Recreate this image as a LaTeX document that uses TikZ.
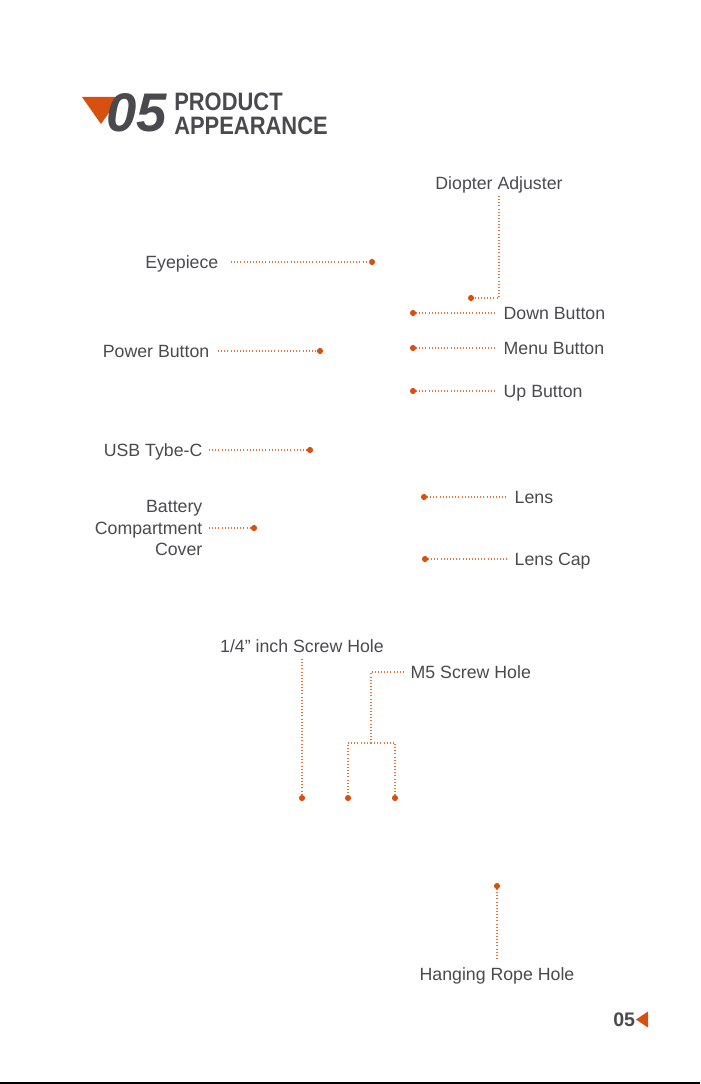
\documentclass[tikz,border=0pt]{standalone}
\usepackage{fontspec}
\setmainfont{Liberation Sans}
\usepackage{xcolor}
\usepackage{tikz}
\usetikzlibrary{positioning}

\definecolor{inkgray}{HTML}{4A4A4E}
\definecolor{accent}{HTML}{D8500F}
\definecolor{leader}{HTML}{E2753A}

\begin{document}
\begin{tikzpicture}[
  x=0.75pt, y=-0.75pt,
  callout/.style={inner sep=0pt, outer sep=5pt, text=inkgray, text height=9.5pt, text depth=0pt,
                  font=\fontsize{13.3}{16.1}\selectfont},
  multi/.style={inner sep=0pt, outer sep=5pt, text=inkgray, align=right,
                font=\fontsize{13.3}{16.1}\selectfont},
  pin/.style={circle, fill=accent, inner sep=0pt, minimum size=4.6pt, outer sep=0pt},
  dots/.style={draw=leader, line width=0.8pt, dash pattern=on 0.75pt off 1.6pt},
  headline/.style={inner sep=0pt, text=inkgray, text height=13.4pt, text depth=0pt,
                   font=\fontsize{18.9}{20}\selectfont\bfseries}
]
\useasboundingbox (0,0) rectangle (700,1084);

% header
\fill[accent] (82,97) -- (120,97) -- (101,124) -- cycle;
\node (Num) at (106,132) [anchor=base west, inner sep=0pt, text=inkgray,
  font=\fontsize{40.8}{41}\selectfont\bfseries\itshape] {05};
\node (Hd1) at (174,111) [headline, anchor=base west] {\scalebox{0.87}[1]{PRODUCT}};
\node (Hd2) at (174,135) [headline, anchor=base west] {\scalebox{0.87}[1]{APPEARANCE}};

% left side
\node (Eye) at (231,262) [callout, anchor=east, outer sep=9.5pt] {Eyepiece};
\node (EyeD) at (372,262) [pin] {};
\node (Pwr) at (218,351) [callout, anchor=east, outer sep=6.5pt] {Power Button};
\node (PwrD) at (320,351) [pin] {};
\node (Usb) at (209,450) [callout, anchor=east] {USB Tybe-C};
\node (UsbD) at (310,450) [pin] {};
\node (Bat) at (209,528) [multi, anchor=east] {Battery\\Compartment\\Cover};
\node (BatD) at (254,528) [pin] {};

\draw [dots] (Eye) -- (EyeD);
\draw [dots] (Pwr) -- (PwrD);
\draw [dots] (Usb) -- (UsbD);
\draw [dots] (Bat) -- (BatD);

% right side
\node (Diop) at (499,183) [callout] {Diopter Adjuster};
\node (DiopD) at (471,298) [pin] {};
\node (Down) at (497,313) [callout, anchor=west] {Down Button};
\node (DownD) at (413,313) [pin] {};
\node (Menu) at (497,348) [callout, anchor=west] {Menu Button};
\node (MenuD) at (413,348) [pin] {};
\node (Up) at (497,391) [callout, anchor=west] {Up Button};
\node (UpD) at (413,391) [pin] {};
\node (Lens) at (508,497) [callout, anchor=west] {Lens};
\node (LensD) at (424,497) [pin] {};
\node (Cap) at (508,559) [callout, anchor=west] {Lens Cap};
\node (CapD) at (425,559) [pin] {};

\draw [dots] (Diop.south) |- (DiopD);
\draw [dots] (DownD) -- (Down);
\draw [dots] (MenuD) -- (Menu);
\draw [dots] (UpD) -- (Up);
\draw [dots] (LensD) -- (Lens);
\draw [dots] (CapD) -- (Cap);

% bottom view
\node (Qtr) at (302,646) [callout] {1/4” inch Screw Hole};
\node (QtrD) at (302,798) [pin] {};
\node (Mfive) at (404,672) [callout, anchor=west] {M5 Screw Hole};
\coordinate (Fork) at (371,743);
\node (MfiveA) at (348,798) [pin] {};
\node (MfiveB) at (395,798) [pin] {};
\node (Rope) at (497,974) [callout] {Hanging Rope Hole};
\node (RopeD) at (497,886) [pin] {};

\draw [dots] (Qtr.south) -- (QtrD);
\draw [dots] (Mfive.west) -| (Fork);
\draw [dots] (Fork) -| (MfiveA);
\draw [dots] (Fork) -| (MfiveB);
\draw [dots] (RopeD) -- (Rope.north);

% page mark
\node (Page) at (613,1026) [anchor=base west, inner sep=0pt, text=inkgray,
  font=\fontsize{14.7}{15}\selectfont\bfseries] {05};
\fill[accent] (636,1019.5) -- (648,1011.5) -- (648,1027.5) -- cycle;
\draw [line width=1.2pt] (0,1083) -- (700,1083);

\end{tikzpicture}
\end{document}
